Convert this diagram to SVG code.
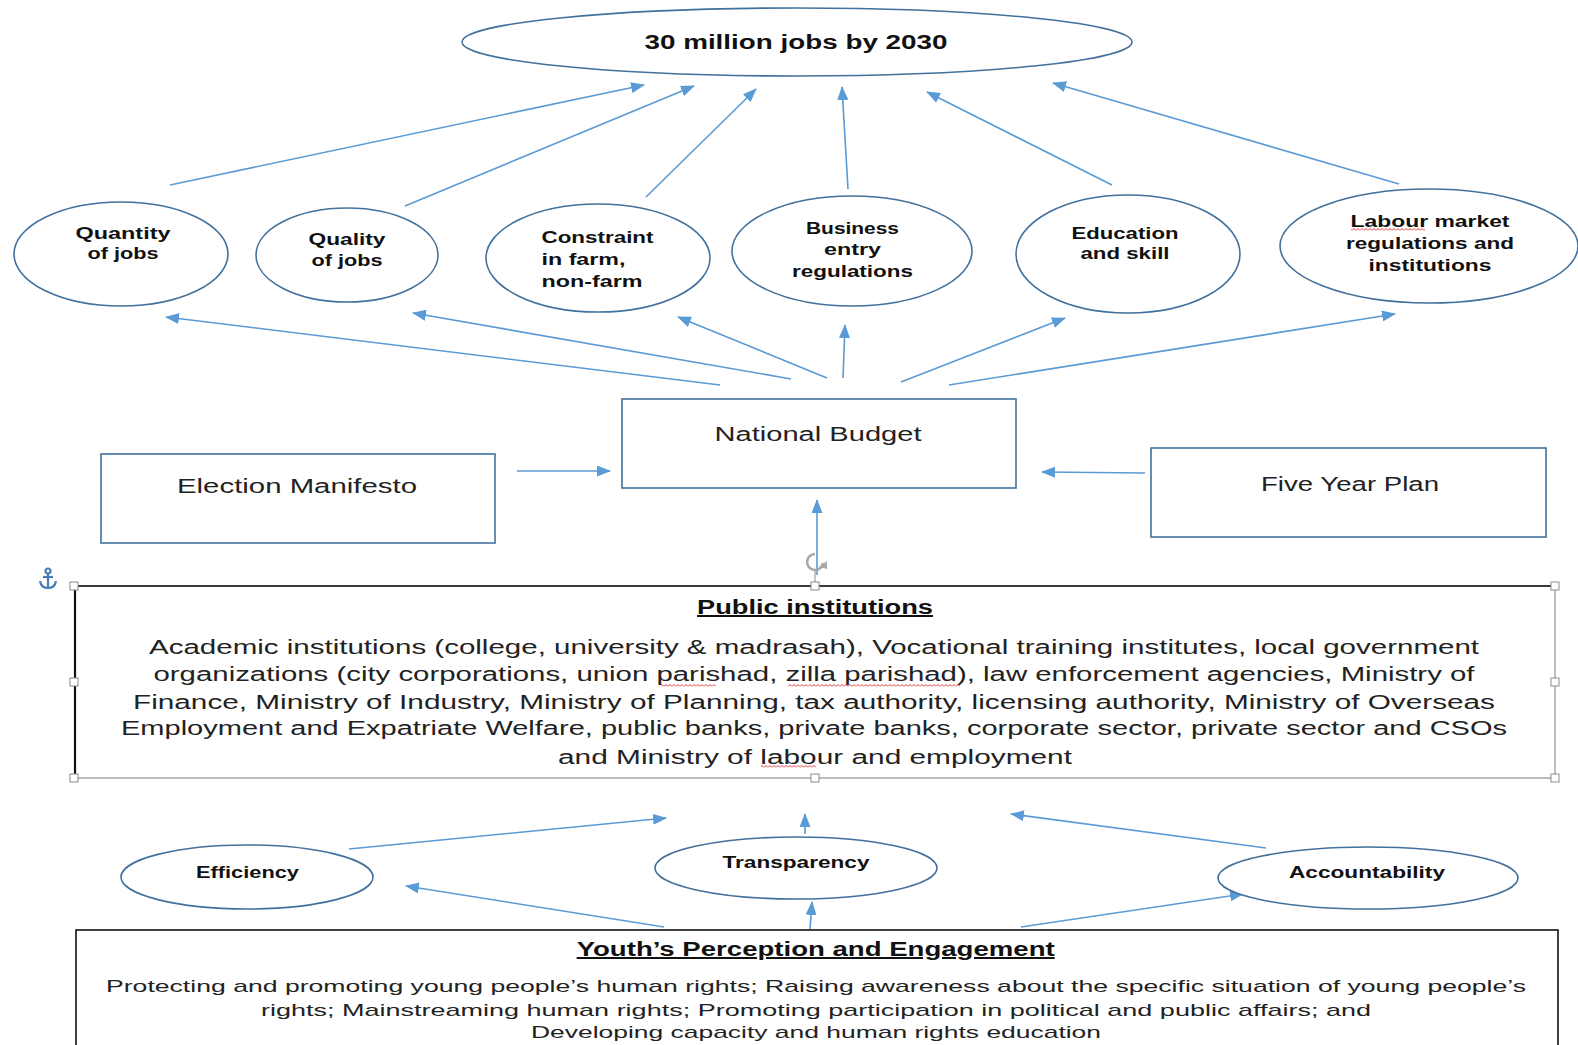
<svg xmlns="http://www.w3.org/2000/svg" width="1578" height="1045" viewBox="0 0 1578 1045">
<style>
.ell{fill:#fff;stroke:#41719C;stroke-width:1.6}
.box{fill:#fff;stroke:#41719C;stroke-width:1.6}
.con{stroke:#5B9BD5;stroke-width:1.6;fill:none;marker-end:url(#ah)}
.lb{font-family:"Liberation Sans",Arial,sans-serif;font-weight:bold;font-size:17px;fill:#111;text-anchor:middle}
.lbl{font-family:"Liberation Sans",Arial,sans-serif;font-weight:bold;font-size:17px;fill:#111;text-anchor:start}
.bx{font-family:"Liberation Sans",Arial,sans-serif;font-size:20px;fill:#222;text-anchor:middle}
.body{font-family:"Liberation Sans",Arial,sans-serif;font-size:20px;fill:#222;text-anchor:middle}
.ybody{font-family:"Liberation Sans",Arial,sans-serif;font-size:17px;fill:#222;text-anchor:middle}
.ttl{font-family:"Liberation Sans",Arial,sans-serif;font-weight:bold;font-size:20px;fill:#111;text-anchor:middle;text-decoration:underline}
.hdl{fill:#fff;stroke:#8a8a8a;stroke-width:1}
</style>
<defs>
<marker id="ah" markerUnits="userSpaceOnUse" markerWidth="14" markerHeight="11" refX="13" refY="5.5" orient="auto">
<path d="M0,0 L14,5.5 L0,11 z" fill="#5B9BD5"/>
</marker>
<pattern id="squig" width="4" height="3" patternUnits="userSpaceOnUse">
<path d="M0,2.5 L2,0.5 L4,2.5" stroke="#e02020" stroke-width="0.9" fill="none"/>
</pattern>
</defs>
<rect width="1578" height="1045" fill="#fff"/>

<g id="connectors">
<line class="con" x1="170" y1="185" x2="644" y2="85"/>
<line class="con" x1="405" y1="206" x2="694" y2="86"/>
<line class="con" x1="646" y1="197" x2="756" y2="89"/>
<line class="con" x1="848" y1="189" x2="842" y2="87"/>
<line class="con" x1="1112" y1="185" x2="927" y2="92"/>
<line class="con" x1="1399" y1="184" x2="1053" y2="83"/>

<line class="con" x1="720" y1="385" x2="166" y2="317"/>
<line class="con" x1="791" y1="379" x2="413" y2="313"/>
<line class="con" x1="827" y1="378" x2="678" y2="317"/>
<line class="con" x1="843" y1="378" x2="845" y2="325"/>
<line class="con" x1="901" y1="382" x2="1065" y2="318"/>
<line class="con" x1="949" y1="385" x2="1395" y2="314"/>

<line class="con" x1="517" y1="471" x2="610" y2="471"/>
<line class="con" x1="1145" y1="473" x2="1042" y2="472"/>
<line class="con" x1="817" y1="575" x2="817" y2="500"/>

<line class="con" x1="349" y1="849" x2="666" y2="818"/>
<line class="con" x1="805" y1="834" x2="805" y2="814"/>
<line class="con" x1="1266" y1="848" x2="1011" y2="814"/>
<line class="con" x1="664" y1="927" x2="406" y2="886"/>
<line class="con" x1="810" y1="929" x2="812" y2="902"/>
<line class="con" x1="1021" y1="927" x2="1243" y2="894"/>
</g>

<g id="goal">
<ellipse class="ell" cx="797" cy="42" rx="335" ry="34"/>
<text class="lb" x="796" y="49" style="font-size:20px" textLength="303" lengthAdjust="spacingAndGlyphs">30 million jobs by 2030</text>
</g>

<g id="quantity">
<ellipse class="ell" cx="121" cy="254" rx="107" ry="52"/>
<text class="lb" x="123" y="238.5" textLength="95" lengthAdjust="spacingAndGlyphs">Quantity</text>
<text class="lb" x="123" y="258.6" textLength="71" lengthAdjust="spacingAndGlyphs">of jobs</text>
</g>

<g id="quality">
<ellipse class="ell" cx="347" cy="255" rx="91" ry="47"/>
<text class="lb" x="347" y="244.5" textLength="77" lengthAdjust="spacingAndGlyphs">Quality</text>
<text class="lb" x="347" y="265.7" textLength="71" lengthAdjust="spacingAndGlyphs">of jobs</text>
</g>

<g id="constraint">
<ellipse class="ell" cx="598" cy="258" rx="112" ry="54"/>
<text class="lbl" x="541.5" y="242.5" textLength="112" lengthAdjust="spacingAndGlyphs">Constraint</text>
<text class="lbl" x="541.5" y="264.7" textLength="84" lengthAdjust="spacingAndGlyphs">in farm,</text>
<text class="lbl" x="541.5" y="286.8" textLength="101" lengthAdjust="spacingAndGlyphs">non-farm</text>
</g>

<g id="business">
<ellipse class="ell" cx="852" cy="251" rx="120" ry="55"/>
<text class="lb" x="852.5" y="233.5" textLength="93" lengthAdjust="spacingAndGlyphs">Business</text>
<text class="lb" x="852.5" y="254.6" textLength="57" lengthAdjust="spacingAndGlyphs">entry</text>
<text class="lb" x="852.5" y="276.7" textLength="121" lengthAdjust="spacingAndGlyphs">regulations</text>
</g>

<g id="education">
<ellipse class="ell" cx="1128" cy="254" rx="112" ry="59"/>
<text class="lb" x="1125" y="238.5" textLength="107" lengthAdjust="spacingAndGlyphs">Education</text>
<text class="lb" x="1125" y="258.6" textLength="89" lengthAdjust="spacingAndGlyphs">and skill</text>
</g>

<g id="labour">
<ellipse class="ell" cx="1429" cy="246" rx="149" ry="57"/>
<text class="lb" x="1430" y="227.4" textLength="159" lengthAdjust="spacingAndGlyphs">Labour market</text>
<text class="lb" x="1430" y="248.6" textLength="168" lengthAdjust="spacingAndGlyphs">regulations and</text>
<text class="lb" x="1430" y="270.7" textLength="123" lengthAdjust="spacingAndGlyphs">institutions</text>
<rect x="1351" y="228" width="74" height="3" fill="url(#squig)"/>
</g>

<g id="national-budget">
<rect class="box" x="622" y="399" width="394" height="89"/>
<text class="bx" x="818" y="441" textLength="207" lengthAdjust="spacingAndGlyphs">National Budget</text>
</g>

<g id="election-manifesto">
<rect class="box" x="101" y="454" width="394" height="89"/>
<text class="bx" x="297" y="493" textLength="240" lengthAdjust="spacingAndGlyphs">Election Manifesto</text>
</g>

<g id="five-year-plan">
<rect class="box" x="1151" y="448" width="395" height="89"/>
<text class="bx" x="1350" y="491" textLength="178" lengthAdjust="spacingAndGlyphs">Five Year Plan</text>
</g>

<g id="public-institutions">
<line x1="74" y1="778" x2="1555" y2="778" stroke="#a6a6a6" stroke-width="1.5"/>
<line x1="1555" y1="586" x2="1555" y2="778" stroke="#a6a6a6" stroke-width="1.5"/>
<line x1="74" y1="586" x2="1555" y2="586" stroke="#3a3a3a" stroke-width="2.2"/>
<line x1="75" y1="586" x2="75" y2="778" stroke="#111" stroke-width="2.2"/>
<text class="ttl" x="815" y="614" textLength="236" lengthAdjust="spacingAndGlyphs">Public institutions</text>
<text class="body" x="814" y="654" textLength="1330" lengthAdjust="spacingAndGlyphs">Academic institutions (college, university &amp; madrasah), Vocational training institutes, local government</text>
<text class="body" x="814" y="681" textLength="1321" lengthAdjust="spacingAndGlyphs">organizations (city corporations, union parishad, zilla parishad), law enforcement agencies, Ministry of</text>
<text class="body" x="814" y="708.5" textLength="1362" lengthAdjust="spacingAndGlyphs">Finance, Ministry of Industry, Ministry of Planning, tax authority, licensing authority, Ministry of Overseas</text>
<text class="body" x="814" y="734.6" textLength="1386" lengthAdjust="spacingAndGlyphs">Employment and Expatriate Welfare, public banks, private banks, corporate sector, private sector and CSOs</text>
<text class="body" x="815" y="763.8" textLength="514" lengthAdjust="spacingAndGlyphs">and Ministry of labour and employment</text>
<rect x="661" y="684" width="55" height="3" fill="url(#squig)"/>
<rect x="788" y="684" width="172" height="3" fill="url(#squig)"/>
<rect x="761" y="765" width="55" height="3" fill="url(#squig)"/>
<rect class="hdl" x="70" y="582" width="8" height="8"/>
<rect class="hdl" x="811" y="582" width="8" height="8"/>
<rect class="hdl" x="1551" y="582" width="8" height="8"/>
<rect class="hdl" x="70" y="678" width="8" height="8"/>
<rect class="hdl" x="1551" y="678" width="8" height="8"/>
<rect class="hdl" x="70" y="774" width="8" height="8"/>
<rect class="hdl" x="811" y="774" width="8" height="8"/>
<rect class="hdl" x="1551" y="774" width="8" height="8"/>
<line x1="815" y1="569" x2="815" y2="582" stroke="#8a8a8a" stroke-width="1"/>
<path d="M823,563 A8,8 0 1 1 815,554" fill="none" stroke="#a8a8a8" stroke-width="2.5"/>
<path d="M819,567 L827,561 L827,569 z" fill="#a8a8a8"/>
<g stroke="#4a7fb5" stroke-width="2.2" fill="none">
<circle cx="48" cy="571" r="2.5"/>
<line x1="48" y1="573.5" x2="48" y2="588"/>
<line x1="43" y1="577" x2="53" y2="577"/>
<path d="M40,581 Q41,588 48,588 Q55,588 56,581"/>
</g>
</g>

<g id="efficiency">
<ellipse class="ell" cx="247" cy="877" rx="126" ry="32"/>
<text class="lb" x="247.5" y="877.6" textLength="103" lengthAdjust="spacingAndGlyphs">Efficiency</text>
</g>

<g id="transparency">
<ellipse class="ell" cx="796" cy="868" rx="141" ry="31"/>
<text class="lb" x="796" y="867.5" textLength="147" lengthAdjust="spacingAndGlyphs">Transparency</text>
</g>

<g id="accountability">
<ellipse class="ell" cx="1368" cy="878" rx="150" ry="31"/>
<text class="lb" x="1367" y="877.6" textLength="156" lengthAdjust="spacingAndGlyphs">Accountability</text>
</g>

<g id="youth">
<rect x="76" y="930" width="1482" height="130" fill="#fff" stroke="#111" stroke-width="1.6"/>
<text class="ttl" x="815.7" y="956" textLength="478" lengthAdjust="spacingAndGlyphs">Youth’s Perception and Engagement</text>
<text class="ybody" x="816" y="992" textLength="1420" lengthAdjust="spacingAndGlyphs">Protecting and promoting young people’s human rights; Raising awareness about the specific situation of young people’s</text>
<text class="ybody" x="816" y="1015.5" textLength="1110" lengthAdjust="spacingAndGlyphs">rights; Mainstreaming human rights; Promoting participation in political and public affairs; and</text>
<text class="ybody" x="816" y="1037.6" textLength="570" lengthAdjust="spacingAndGlyphs">Developing capacity and human rights education</text>
</g>
</svg>
